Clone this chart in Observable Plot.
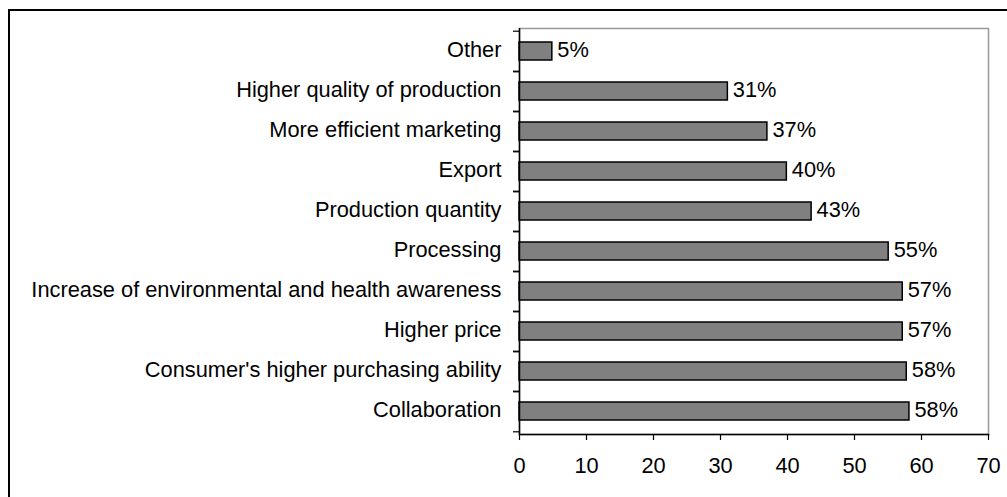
<!DOCTYPE html>
<html><head><meta charset="utf-8">
<script src="https://cdn.jsdelivr.net/npm/d3@7"></script>
<script src="https://cdn.jsdelivr.net/npm/@observablehq/plot@0.6"></script>
<style>
body{margin:0;background:#fff;}
#wrap{position:relative;width:1007px;height:497px;overflow:hidden;background:#fff;}
#border{position:absolute;left:8px;top:9px;width:1100px;height:600px;border:2px solid #000;}
#chart{position:absolute;left:0;top:0;}
</style></head><body>
<div id="wrap"><div id="border"></div><div id="chart"></div></div>
<script>
const categories = [
  "Other",
  "Higher quality of production",
  "More efficient marketing",
  "Export",
  "Production quantity",
  "Processing",
  "Increase of environmental and health awareness",
  "Higher price",
  "Consumer's higher purchasing ability",
  "Collaboration"
];
const values = [4.9, 31.1, 37.0, 39.9, 43.6, 55.1, 57.2, 57.2, 57.8, 58.2];
const valueLabels = ["5%", "31%", "37%", "40%", "43%", "55%", "57%", "57%", "58%", "58%"];
const xTicks = [0, 10, 20, 30, 40, 50, 60, 70];

const data = categories.map((c, i) => ({category: c, value: values[i], label: valueLabels[i]}));
const W = 1007, H = 497, mt = 28, mb = 63, ml = 519, mr = 19;
const half = (H - mt - mb) / categories.length / 2;

const plot = Plot.plot({
  width: W, height: H,
  marginLeft: ml, marginRight: mr, marginTop: mt, marginBottom: mb,
  style: {fontFamily: "'Liberation Sans', Arial, sans-serif", fontSize: "21.8px", color: "#000", background: "transparent"},
  x: {domain: [0, 70], ticks: xTicks},
  y: {domain: categories, paddingInner: 0.555, paddingOuter: 0.2775, align: 0.5},
  marks: [
    Plot.frame({stroke: "#999", strokeWidth: 1.5}),
    Plot.barX(data, {x: "value", y: "category", fill: "#808080", stroke: "#000", strokeWidth: 1.5}),
    Plot.text(data, {x: "value", y: "category", text: "label", textAnchor: "start", dx: 5, dy: -1, fill: "#000"}),
    Plot.ruleX([0], {stroke: "#000", strokeWidth: 1.5}),
    Plot.frame({anchor: "bottom", stroke: "#000", strokeWidth: 1.5}),
    Plot.axisX({ticks: xTicks, tickSize: 6, tickPadding: 17, label: null, tickFormat: d => String(d), strokeWidth: 1.2}),
    Plot.axisY({tickSize: 0, tickPadding: 18, dy: -1, label: null}),
    Plot.axisY({tickSize: 6, dy: half, label: null, tickFormat: () => "", strokeWidth: 1.2}),
    Plot.axisY({tickSize: 6, dy: -half, label: null, tickFormat: () => "", strokeWidth: 1.2})
  ]
});
document.getElementById("chart").appendChild(plot);
</script>
</body></html>
